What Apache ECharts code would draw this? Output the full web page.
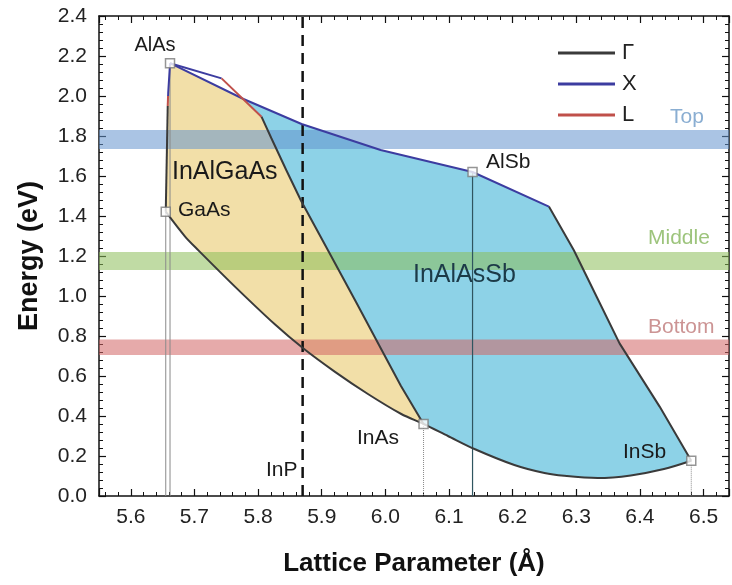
<!DOCTYPE html>
<html><head><meta charset="utf-8">
<script src="https://cdn.jsdelivr.net/npm/echarts@6/dist/echarts.min.js"></script>
<style>html,body{margin:0;padding:0;background:#fff}#c{width:732px;height:585px}</style>
</head><body><div id="c"></div>
<script>
// ---- tick labels ----
const xTickValues = [5.6,5.7,5.8,5.9,6.0,6.1,6.2,6.3,6.4,6.5];
const xTickLabels = ['5.6','5.7','5.8','5.9','6.0','6.1','6.2','6.3','6.4','6.5'];
const yTickValues = [0,0.2,0.4,0.6,0.8,1.0,1.2,1.4,1.6,1.8,2.0,2.2,2.4];
const yTickLabels = ['0.0','0.2','0.4','0.6','0.8','1.0','1.2','1.4','1.6','1.8','2.0','2.2','2.4'];

// ---- binary compounds ----
const materialNames   = ['AlAs','GaAs','InAs','AlSb','InSb'];
const materialLattice = [5.6616, 5.6549, 6.060, 6.137, 6.4807];
const materialEnergy  = [2.164, 1.4215, 0.360, 1.620, 0.1765];
const inpLattice = 5.87;

// ---- Γ (gamma) boundary lines ----
const gammaInAlAs = [[5.8053,1.8965],[5.8207,1.79],[5.8442,1.63],[5.8677,1.475],[5.9147,1.20],[5.9539,0.97],[5.99,0.755],[6.0245,0.55],[6.06,0.36]];
const gammaBottom = [[5.6549,1.4215],[5.6853,1.297],[5.7063,1.228],[5.7636,1.047],[5.8263,0.8585],[5.8708,0.7385],[5.9203,0.622],[5.9726,0.51],[6.025,0.41],[6.06,0.36],[6.0983,0.30],[6.14,0.235],[6.2027,0.155],[6.25,0.115],[6.281,0.101],[6.3334,0.09],[6.3856,0.103],[6.4378,0.135],[6.4807,0.1765]];
const gammaRight  = [[6.257,1.447],[6.296,1.23],[6.333,0.99],[6.368,0.763],[6.431,0.447],[6.4807,0.1765]];
const gammaLeft   = [[5.6549,1.4215],[5.6580,1.95]];
// ---- X boundary lines ----
const xMain  = [[5.6616,2.164],[5.777,1.985],[5.8683,1.86],[5.9925,1.73],[6.137,1.62],[6.257,1.447]];
const xUpper = [[5.6616,2.164],[5.7426,2.088]];
const xLeft  = [[5.6616,2.164],[5.6585,2.0]];
// ---- L boundary lines ----
const lUpper = [[5.7426,2.088],[5.8053,1.8965]];
const lLeft  = [[5.6585,2.0],[5.658,1.95]];

// ---- target bands ----
const bandNames = ['Top','Middle','Bottom'];
const bandLow  = [1.735, 1.13, 0.705];
const bandHigh = [1.83, 1.22, 0.783];

const X_MIN = 5.55, X_MAX = 6.54, Y_MIN = 0, Y_MAX = 2.4;
const FONT = '"Liberation Sans", Arial, sans-serif';
const C_G = '#3a3a3a', C_X = '#3c3ca0', C_L = '#c0504a';
const bandColors = ['rgba(100,148,205,0.55)','rgba(140,190,90,0.55)','rgba(210,100,100,0.55)'];
const bandTextColors = ['#8aaed2','#9dc47c','#cc9494'];

// polygons built from boundary arrays
const iInAs = gammaBottom.findIndex(p => p[0] === materialLattice[2]);
const yellowPoly = [xMain[0], xMain[1]]
  .concat(gammaInAlAs)
  .concat(gammaBottom.slice(0, iInAs).reverse())
  .concat([gammaLeft[1], xLeft[1]]);
const cyanPoly = xMain.slice(1)
  .concat(gammaRight.slice(1))
  .concat(gammaBottom.slice(iInAs + 1, gammaBottom.length - 1).reverse())
  .concat(gammaInAlAs.slice().reverse());

function polySeries(pts, fill, z) {
  return { type: 'custom', silent: true, z, clip: true, data: [pts[0]],
    renderItem: (p, api) => ({ type: 'polygon', shape: { points: pts.map(q => api.coord(q)) }, style: { fill } }) };
}
function lineSeries(name, data, color, width, z, type, smooth) {
  return { type: 'line', name, data, symbol: 'none', z, silent: true, animation: false, smooth: smooth || false,
    lineStyle: { color, width, type: type || 'solid' }, itemStyle: { color } };
}
function fmt(values, labels) {
  return v => { const i = values.findIndex(t => Math.abs(t - v) < 1e-6); return i >= 0 ? labels[i] : ''; };
}

const series = [];
series.push(polySeries(yellowPoly, '#f2dfa8', 1));
series.push(polySeries(cyanPoly, '#8dd2e7', 1));
// bands
series.push({ type: 'custom', silent: true, z: 2, clip: true,
  data: bandLow.map((lo, i) => [lo, bandHigh[i], i]),
  renderItem: (p, api) => {
    const a = api.coord([X_MIN, api.value(1)]), b = api.coord([X_MAX, api.value(0)]);
    return { type: 'rect', shape: { x: a[0], y: a[1], width: b[0] - a[0], height: b[1] - a[1] },
      style: { fill: bandColors[api.value(2)] } };
  } });
// drop lines
materialNames.forEach((n, i) => {
  const dotted = (n === 'InAs' || n === 'InSb');
  const col = n === 'AlSb' ? '#2f5560' : '#8a8a8a';
  series.push(lineSeries(undefined, [[materialLattice[i], materialEnergy[i]], [materialLattice[i], 0]], col, n === 'AlSb' ? 1.2 : 1, 3, dotted ? 'dotted' : 'solid'));
});
// InP dashed
series.push(lineSeries(undefined, [[inpLattice, Y_MIN], [inpLattice, Y_MAX]], '#111', 2.5, 3, [11, 7]));
// boundary lines
series.push(lineSeries('Γ', gammaInAlAs, C_G, 2, 4));
series.push(lineSeries('Γ', gammaBottom, C_G, 2, 4, 'solid', 0.3));
series.push(lineSeries('Γ', gammaRight, C_G, 2, 4));
series.push(lineSeries('Γ', gammaLeft, C_G, 2, 4));
[xMain, xUpper, xLeft].forEach(d => series.push(lineSeries('X', d, C_X, 2, 4)));
[lUpper, lLeft].forEach(d => series.push(lineSeries('L', d, C_L, 2, 4)));
// markers
series.push({ type: 'scatter', z: 6, silent: true, symbol: 'rect', symbolSize: 9,
  data: materialNames.map((n, i) => [materialLattice[i], materialEnergy[i]]),
  itemStyle: { color: '#fff', borderColor: '#7a7a7a', borderWidth: 1.5 } });

function txt(text, x, y, size, color, align) {
  return { type: 'text', x, y, z: 100, silent: true,
    style: { text, fill: color || '#1a1a1a', font: size + 'px ' + FONT, align: align || 'left', verticalAlign: 'middle' } };
}

const chart = echarts.init(document.getElementById('c'), null, { renderer: 'canvas' });
const axisCommon = {
  axisLine: { show: true, onZero: false, lineStyle: { color: '#111', width: 1.5 } },
  axisTick: { show: true, inside: true, length: 7, lineStyle: { color: '#111', width: 1.2 } },
  minorTick: { show: true, splitNumber: 5, length: 4, lineStyle: { color: '#111', width: 1 } },
  splitLine: { show: false }
};
chart.setOption({
  animation: false,
  backgroundColor: '#fff',
  grid: { left: 99, right: 3, top: 16, bottom: 89 },
  legend: {
    data: ['Γ', 'X', 'L'], orient: 'vertical', left: 553, top: 37,
    icon: 'rect', itemWidth: 57, itemHeight: 3, itemGap: 9, selectedMode: false,
    textStyle: { fontSize: 22, fontFamily: FONT, color: '#222', lineHeight: 22, padding: [0, 0, 0, 2] }
  },
  xAxis: [
    Object.assign({ type: 'value', min: X_MIN, max: X_MAX, splitNumber: 10, position: 'bottom',
      name: 'Lattice Parameter (Å)', nameLocation: 'middle', nameGap: 55,
      nameTextStyle: { fontSize: 26, fontWeight: 'bold', fontFamily: FONT, color: '#111' },
      axisLabel: { fontSize: 21, fontFamily: FONT, color: '#222', margin: 11, showMinLabel: false, showMaxLabel: false,
        formatter: fmt(xTickValues, xTickLabels) } }, axisCommon),
    Object.assign({ type: 'value', min: X_MIN, max: X_MAX, splitNumber: 10, position: 'top',
      axisLabel: { show: false } }, axisCommon)
  ],
  yAxis: [
    Object.assign({ type: 'value', min: Y_MIN, max: Y_MAX, interval: 0.2, position: 'left',
      name: 'Energy (eV)', nameLocation: 'middle', nameGap: 56,
      nameTextStyle: { fontSize: 27, fontWeight: 'bold', fontFamily: FONT, color: '#111' },
      axisLabel: { fontSize: 21, fontFamily: FONT, color: '#222', margin: 12, formatter: fmt(yTickValues, yTickLabels) } }, axisCommon),
    Object.assign({ type: 'value', min: Y_MIN, max: Y_MAX, interval: 0.2, position: 'right',
      axisLabel: { show: false } }, axisCommon)
  ],
  series,
  graphic: [
    txt('AlAs', 155, 45, 20, '#1a1a1a', 'center'),
    txt('GaAs', 178, 210, 21),
    txt('InAs', 357, 438, 21),
    txt('AlSb', 486, 162, 21),
    txt('InSb', 623, 452, 21),
    txt('InP', 266, 470, 21),
    txt('InAlGaAs', 172, 172, 25),
    txt('InAlAsSb', 413, 275, 25, '#1c3a48'),
    txt(bandNames[0], 670, 117, 21, bandTextColors[0]),
    txt(bandNames[1], 648, 238, 21, bandTextColors[1]),
    txt(bandNames[2], 648, 327, 21, bandTextColors[2])
  ]
});
</script></body></html>
